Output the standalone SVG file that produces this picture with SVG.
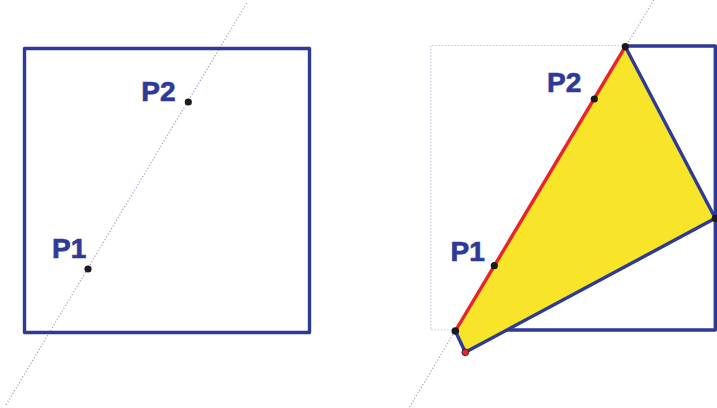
<svg xmlns="http://www.w3.org/2000/svg" width="717" height="408" viewBox="0 0 717 408">
<style>
.sq{fill:none;stroke:#2e3a96;stroke-width:3.4;stroke-linejoin:round}
.edge{fill:none;stroke:#2e3a96;stroke-width:3.4;stroke-linecap:round;stroke-linejoin:round}
.red{fill:none;stroke:#e8242a;stroke-width:3.4;stroke-linecap:round}
.dot{fill:#1a1a1a}
.lbl{font-family:"Liberation Sans",Arial,sans-serif;font-weight:bold;font-size:28px;fill:#2e3a96;stroke:#2e3a96;stroke-width:0.7}
.guide{fill:none;stroke:#9c9cc8;stroke-width:1.2;stroke-dasharray:1.2 2}
.guide2{fill:none;stroke:#a0a0a8;stroke-width:1.2;stroke-dasharray:1.2 2}
.ghost{fill:none;stroke:#b8b8d4;stroke-width:1.2;stroke-dasharray:1.2 2}
</style>
<g id="left">
<line class="guide" x1="246.7" y1="3" x2="6" y2="405"/>
<rect id="leftSquare" class="sq" x="24.5" y="48.5" width="285" height="284"/>
<g id="leftP2"><circle class="dot" cx="188.3" cy="102" r="3.6"/><text class="lbl" x="141.3" y="101">P2</text></g>
<g id="leftP1"><circle class="dot" cx="88" cy="269" r="3.6"/><text class="lbl" x="52" y="258">P1</text></g>
</g>
<g id="right">
<line class="guide2" x1="653.7" y1="0" x2="408.9" y2="408"/>
<polyline class="ghost" points="455,330 430.7,330 430.7,45.5 625,45.5"/>
<polyline class="sq" points="625.3,46 715.3,46 715.3,330 504,330"/>
<polygon id="region" points="625.3,46.7 715.3,218.3 465.3,352.3 455.3,331" fill="#f8e429"/>
<polyline class="edge" points="625.3,46.7 715.3,218.3 465.3,352.3 455.3,331"/>
<line class="red" x1="455.3" y1="331" x2="625.3" y2="46.7"/>
<circle class="dot" cx="625.3" cy="46.7" r="3.6"/>
<circle class="dot" cx="715.3" cy="218.3" r="3.6"/>
<circle class="dot" cx="455.3" cy="331" r="3.8"/>
<circle cx="465.3" cy="352.3" r="3.4" fill="#e8242a" stroke="#1a1a1a" stroke-width="0.8"/>
<g id="rightP2"><circle class="dot" cx="594.3" cy="99" r="3.6"/><text class="lbl" x="547" y="92">P2</text></g>
<g id="rightP1"><circle class="dot" cx="494.3" cy="265.7" r="3.6"/><text class="lbl" x="450.5" y="260.5">P1</text></g>
</g>
</svg>
